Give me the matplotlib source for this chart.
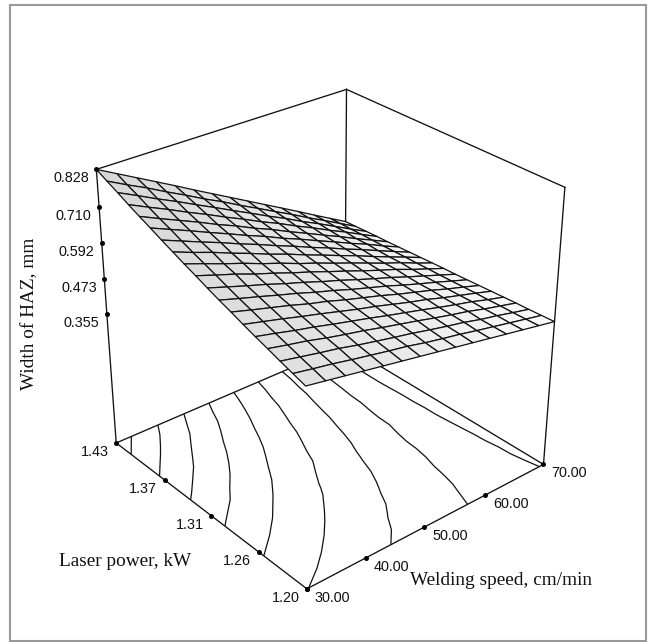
import numpy as np
import matplotlib
matplotlib.use("Agg")
from matplotlib import pyplot as plt
from matplotlib.patches import Rectangle

SPEED_TICKS = [30.0, 39.2, 48.8, 59.3, 70.0]
POWER_TICKS = [1.20, 1.253, 1.308, 1.366, 1.43]
WIDTH_TICKS = [0.828, 0.710, 0.592, 0.473, 0.355]
SPEED_LABELS = ["30.00", "40.00", "50.00", "60.00", "70.00"]
POWER_LABELS = ["1.20", "1.26", "1.31", "1.37", "1.43"]
WIDTH_LABELS = ["0.828", "0.710", "0.592", "0.473", "0.355"]
FLOOR = -0.106
LEVELS = [0.40, 0.45, 0.50, 0.55, 0.60, 0.65, 0.70, 0.75, 0.80]

SPEED_GRID = np.linspace(30, 70, 15)
POWER_GRID = np.linspace(1.20, 1.43, 19)

# width of HAZ, one row per laser power
WIDTH_HAZ = np.array([
    [.551, .540, .529, .518, .507, .496, .485, .474, .463, .452, .441, .430, .419, .408, .397],
    [.564, .552, .541, .528, .516, .504, .493, .479, .467, .456, .443, .431, .419, .407, .395],
    [.577, .564, .551, .539, .524, .511, .498, .486, .472, .459, .447, .432, .420, .406, .393],
    [.591, .577, .564, .548, .534, .521, .506, .492, .478, .463, .449, .436, .420, .406, .392],
    [.604, .589, .573, .559, .543, .528, .513, .497, .482, .467, .451, .436, .422, .405, .390],
    [.618, .602, .586, .569, .553, .536, .519, .504, .487, .470, .455, .437, .421, .405, .388],
    [.633, .615, .598, .581, .562, .546, .527, .510, .493, .474, .457, .440, .421, .404, .386],
    [.647, .628, .610, .591, .573, .553, .535, .515, .497, .479, .459, .440, .422, .403, .384],
    [.662, .642, .622, .603, .582, .563, .542, .523, .502, .482, .463, .442, .422, .402, .382],
    [.678, .657, .637, .614, .594, .572, .552, .530, .509, .487, .466, .446, .423, .402, .381],
    [.693, .671, .648, .627, .603, .582, .558, .537, .514, .492, .469, .446, .425, .401, .379],
    [.709, .685, .663, .638, .615, .590, .568, .543, .520, .496, .473, .448, .424, .401, .377],
    [.725, .700, .675, .651, .625, .601, .575, .551, .525, .501, .475, .451, .425, .400, .375],
    [.742, .716, .690, .663, .637, .610, .585, .557, .532, .505, .479, .452, .427, .399, .373],
    [.758, .730, .703, .676, .647, .621, .592, .566, .537, .510, .482, .455, .426, .399, .371],
    [.775, .746, .718, .688, .660, .630, .602, .572, .545, .515, .487, .457, .429, .399, .370],
    [.793, .763, .732, .703, .672, .642, .611, .581, .550, .521, .489, .460, .429, .398, .368],
    [.810, .778, .748, .715, .684, .651, .621, .588, .557, .525, .494, .461, .430, .398, .366],
    [.828, .795, .762, .729, .696, .662, .629, .596, .563, .530, .497, .464, .430, .397, .364],
])

# where the box corners land in the 650x642 picture, sets up the view
BOX_CORNERS = [
    (0, 0, 0, 307.0, 589.0),
    (1, 0, 0, 543.3, 464.3),
    (1, 1, 0, 345.0, 345.0),
    (0, 1, 0, 116.0, 442.7),
    (0, 1, 1, 96.5, 169.5),
    (1, 1, 1, 346.3, 89.3),
    (1, 0, 1, 565.0, 187.3),
]

FIG_W, FIG_H = 650, 642
TEXT_SIZE = 10.4
TITLE_SIZE = 13.9


def fit_camera():
    rows = []
    for u, v, w, px, py in BOX_CORNERS:
        p = [u, v, w, 1]
        rows.append(p + [0, 0, 0, 0] + [-px * c for c in p])
        rows.append([0, 0, 0, 0] + p + [-py * c for c in p])
    cam = np.linalg.svd(np.array(rows))[2][-1].reshape(3, 4)
    if cam[2] @ [0.5, 0.5, 0.5, 1] < 0:
        cam = -cam
    # unit box -> data units
    to_unit = np.array([
        [1 / 40, 0, 0, -30 / 40],
        [0, 1 / 0.23, 0, -1.20 / 0.23],
        [0, 0, 1 / (0.828 - FLOOR), -FLOOR / (0.828 - FLOOR)],
        [0, 0, 0, 1],
    ])
    return cam @ to_unit


CAMERA = fit_camera()

fig = plt.figure(figsize=(FIG_W / 100, FIG_H / 100), dpi=100)
ax = fig.add_subplot(projection="3d")
ax.set_position([0, 0, 1, 1])
ax.set_axis_off()
ax.patch.set_visible(False)
ax.computed_zorder = False


def picture_proj():
    flip = np.array([[1, 0, 0], [0, -1, FIG_H], [0, 0, 1]])
    m = ax.transData.inverted().get_matrix() @ flip @ CAMERA
    return np.vstack([m[0], m[1], [0, 0, 0, -1], m[2]])


ax.get_proj = picture_proj

S, P = np.meshgrid(SPEED_GRID, POWER_GRID)

# floor contours
ax.contour(S, P, WIDTH_HAZ, levels=LEVELS, zdir="z", offset=FLOOR,
           colors="#111111", linewidths=0.9, zorder=2)


def box_line(a, b, zorder):
    ax.plot([a[0], b[0]], [a[1], b[1]], [a[2], b[2]], color="#111111", lw=0.95,
            zorder=zorder, clip_on=False)


# back edges sit behind the surface
box_line((70, 1.43, FLOOR), (70, 1.43, 0.828), 1)
box_line((30, 1.43, FLOOR), (70, 1.43, FLOOR), 1)
box_line((70, 1.20, FLOOR), (70, 1.43, FLOOR), 1)
box_line((30, 1.43, 0.828), (70, 1.43, 0.828), 1)
box_line((70, 1.43, 0.828), (70, 1.20, 0.828), 1)

shade = 0.84 + 0.10 * (S - 30) / 40 + 0.04 * (1.43 - P) / 0.23
ax.plot_surface(S, P, WIDTH_HAZ, rstride=1, cstride=1, facecolors=plt.cm.gray(shade),
                shade=False, edgecolor="#111111", linewidth=0.9, zorder=3)

box_line((30, 1.43, FLOOR), (30, 1.43, 0.828), 4)
box_line((70, 1.20, FLOOR), (70, 1.20, 0.828), 4)
box_line((30, 1.20, FLOOR), (30, 1.43, FLOOR), 4)
box_line((30, 1.20, FLOOR), (70, 1.20, FLOOR), 4)

# tick dots and labels
dot = dict(color="black", ls="none", marker="o", ms=3.6, mew=0, zorder=5, clip_on=False)
ax.plot([30] * 5, [1.43] * 5, WIDTH_TICKS, **dot)
ax.plot([30] * 5, POWER_TICKS, [FLOOR] * 5, **dot)
ax.plot(SPEED_TICKS, [1.20] * 5, [FLOOR] * 5, **dot)


def tick_label(speed, power, width, label, dx, ha):
    q = CAMERA @ [speed, power, width, 1]
    x, y = q[0] / q[2] + dx, q[1] / q[2] + 9
    fig.text(x / FIG_W, 1 - y / FIG_H, label, family="Liberation Sans", fontsize=TEXT_SIZE,
             ha=ha, va="center", color="#111111")


for val, lab in zip(WIDTH_TICKS, WIDTH_LABELS):
    tick_label(30, 1.43, val, lab, -7.5, "right")
for val, lab in zip(POWER_TICKS, POWER_LABELS):
    tick_label(30, val, FLOOR, lab, -7.5, "right")
for val, lab in zip(SPEED_TICKS, SPEED_LABELS):
    tick_label(val, 1.20, FLOOR, lab, 8, "left")

title = dict(family="Liberation Serif", fontsize=TITLE_SIZE, ha="center", va="center", color="#111111")
fig.text(30 / FIG_W, 1 - 314 / FIG_H, "Width of HAZ, mm", rotation=90, **title)
fig.text(125 / FIG_W, 1 - 562 / FIG_H, "Laser power, kW", **title)
fig.text(500.7 / FIG_W, 1 - 580.7 / FIG_H, "Welding speed, cm/min", **title)

fig.add_artist(Rectangle((9.5 / FIG_W, 1 - 640.5 / FIG_H), 636.5 / FIG_W, 636 / FIG_H, fill=False,
                         edgecolor="#999999", lw=1.5, transform=fig.transFigure))

fig.savefig("out.png", dpi=100)
